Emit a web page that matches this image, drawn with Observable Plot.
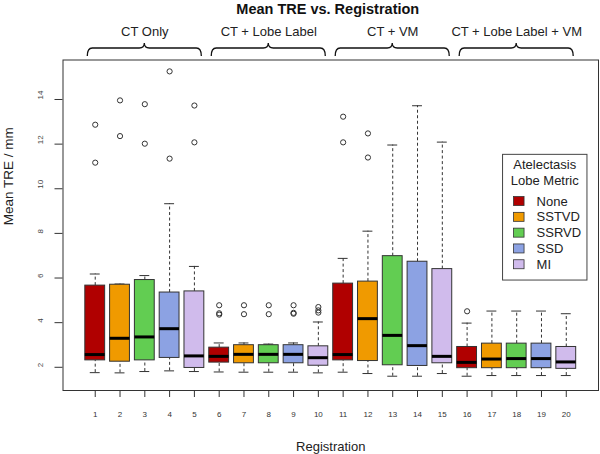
<!DOCTYPE html>
<html><head><meta charset="utf-8">
<script src="https://cdn.jsdelivr.net/npm/d3@7"></script>
<script src="https://cdn.jsdelivr.net/npm/@observablehq/plot@0.6"></script>
<style>body{margin:0;background:#fff} svg{display:block}</style>
</head><body><div id="chart"></div>
<script>
// ---- data ----
const registrations = [1,2,3,4,5,6,7,8,9,10,11,12,13,14,15,16,17,18,19,20];
const metrics = ["None","SSTVD","SSRVD","SSD","MI"];
const metricColors = ["#B00000","#F09A00","#62CD52","#8CA2E3","#D0BBEC"];
const groups = ["CT Only","CT + Lobe Label","CT + VM","CT + Lobe Label + VM"];
const legendTitle = ["Atelectasis","Lobe Metric"];
const whiskerLow  = [1.76,1.75,1.81,1.84,1.81, 1.79,1.78,1.78,1.78,1.75, 1.78,1.72,1.60,1.60,1.72, 1.60,1.63,1.63,1.63,1.63];
const q1          = [2.31,2.25,2.31,2.42,1.97, 2.21,2.18,2.18,2.18,2.07, 2.31,2.28,2.09,2.06,2.18, 1.96,1.96,1.96,1.96,1.93];
const median      = [2.57,3.30,3.36,3.73,2.51, 2.49,2.58,2.58,2.58,2.43, 2.57,4.18,3.43,2.97,2.49, 2.22,2.37,2.39,2.39,2.24];
const q3          = [5.66,5.70,5.91,5.35,5.40, 2.88,2.99,2.99,2.99,2.94, 5.75,5.84,6.98,6.73,6.40, 2.91,3.06,3.06,3.06,2.91];
const whiskerHigh = [6.18,5.73,6.11,9.33,6.52, 3.09,3.09,3.04,3.09,4.03, 6.88,8.10,11.96,13.72,12.09, 3.98,4.52,4.52,4.52,4.40];
const outliers = [
  [12.87,11.17],[13.96,12.36],[13.79,12.02],[15.26,11.35],[13.73,12.08],
  [4.78,4.42,4.36],[4.78,4.38],[4.78,4.38],[4.78,4.44,4.40],[4.70,4.55,4.45],
  [13.23,12.08],[12.48,11.40],[],[],[],
  [4.51],[],[],[],[]
];
const yTicks = [2,4,6,8,10,12,14];
const title = "Mean TRE vs. Registration";
const xLabel = "Registration";
const yLabel = "Mean TRE / mm";

// ---- derived tables ----
const boxes = registrations.map((r, i) => ({
  reg: r, metric: metrics[i % metrics.length],
  lo: whiskerLow[i], q1: q1[i], med: median[i], q3: q3[i], hi: whiskerHigh[i]
}));
const outPts = outliers.flatMap((arr, i) => arr.map(v => ({reg: registrations[i], v})));
const groupData = groups.map((g, j) => ({group: g, center: d3.mean(registrations.slice(j * 5, j * 5 + 5))}));

const halfBox = 0.4, halfCap = 0.2, braceHalf = 2.3;
const font = "'Liberation Sans', Arial, sans-serif";

function braces(index, scales, values, dim) {
  const g = d3.create("svg:g").attr("fill", "none").attr("stroke", "#111").attr("stroke-width", 1.3);
  const yTop = dim.marginTop;
  const yH = yTop - 11.5, yEnd = yTop - 3.5, yCusp = yTop - 16.5;
  for (const d of groupData) {
    const x1 = scales.x(d.center - braceHalf), x2 = scales.x(d.center + braceHalf), xc = scales.x(d.center);
    const r = 5;
    g.append("path").attr("d",
      `M${x1},${yEnd} Q${x1},${yH} ${x1 + r},${yH} L${xc - r},${yH} Q${xc},${yH} ${xc},${yCusp}` +
      ` Q${xc},${yH} ${xc + r},${yH} L${x2 - r},${yH} Q${x2},${yH} ${x2},${yEnd}`);
  }
  return g.node();
}

function legend(index, scales, values, dim) {
  const x0 = scales.x(17.45), y0 = scales.y(11.52);
  const w = 84.4, h = 125.7;
  const g = d3.create("svg:g").attr("font-family", font).attr("font-size", 13).attr("fill", "#222");
  g.append("rect").attr("x", x0).attr("y", y0).attr("width", w).attr("height", h)
    .attr("fill", "white").attr("stroke", "#444").attr("stroke-width", 1);
  legendTitle.forEach((t, i) => g.append("text").attr("x", x0 + w / 2).attr("y", y0 + 10 + i * 16)
    .attr("dy", "0.35em").attr("text-anchor", "middle").text(t));
  metrics.forEach((m, i) => {
    const cy = y0 + 46.7 + i * 15.8;
    g.append("rect").attr("x", x0 + 11).attr("y", cy - 4.5).attr("width", 10.5).attr("height", 9)
      .attr("fill", scales.color(m)).attr("stroke", "#333").attr("stroke-width", 0.8);
    g.append("text").attr("x", x0 + 34).attr("y", cy).attr("dy", "0.35em")
      .attr("text-anchor", "start").text(m);
  });
  return g.node();
}

const chart = Plot.plot({
  width: 600, height: 454,
  marginLeft: 62.5, marginRight: 2, marginTop: 59.5, marginBottom: 64,
  style: {fontFamily: font, background: "white", color: "#222"},
  x: {type: "linear", domain: [-0.3, 21.3]},
  y: {domain: [0.96, 15.77]},
  color: {domain: metrics, range: metricColors},
  marks: [
    Plot.ruleX(boxes, {x: "reg", y1: "q3", y2: "hi", stroke: "#333", strokeDasharray: "3,2.5"}),
    Plot.ruleX(boxes, {x: "reg", y1: "lo", y2: "q1", stroke: "#333", strokeDasharray: "3,2.5"}),
    Plot.ruleY(boxes, {y: "hi", x1: d => d.reg - halfCap, x2: d => d.reg + halfCap, stroke: "#333"}),
    Plot.ruleY(boxes, {y: "lo", x1: d => d.reg - halfCap, x2: d => d.reg + halfCap, stroke: "#333"}),
    Plot.rect(boxes, {x1: d => d.reg - halfBox, x2: d => d.reg + halfBox, y1: "q1", y2: "q3",
      fill: "metric", stroke: "#333", strokeWidth: 1}),
    Plot.ruleY(boxes, {y: "med", x1: d => d.reg - halfBox, x2: d => d.reg + halfBox, stroke: "#000", strokeWidth: 3}),
    Plot.dot(outPts, {x: "reg", y: "v", r: 2.6, stroke: "#333", fill: "none", strokeWidth: 1}),
    Plot.frame({stroke: "#333"}),
    Plot.axisX({ticks: registrations, tickSize: 7, tickPadding: 14, fontSize: 8, label: null, color: "#333"}),
    Plot.axisY({ticks: yTicks, tickSize: 8, tickFormat: () => "", label: null, color: "#333"}),
    Plot.text(yTicks, {y: d => d, text: d => String(d), frameAnchor: "left", dx: -22.5, rotate: -90, fontSize: 8, fill: "#444"}),
    Plot.text([yLabel], {frameAnchor: "left", dx: -54, rotate: -90, fontSize: 13.5, fill: "#222"}),
    Plot.text([xLabel], {frameAnchor: "bottom", lineAnchor: "bottom", dy: 60, fontSize: 13, fill: "#222"}),
    Plot.text([title], {frameAnchor: "top", lineAnchor: "bottom", dy: -46.5, dx: -3, fontSize: 14.5, fontWeight: "bold", fill: "#111"}),
    Plot.text(groupData, {x: "center", text: "group", frameAnchor: "top", lineAnchor: "bottom", dy: -24, fontSize: 13, fill: "#222"}),
    braces,
    legend
  ]
});
document.getElementById("chart").append(chart);
</script>
</body></html>
